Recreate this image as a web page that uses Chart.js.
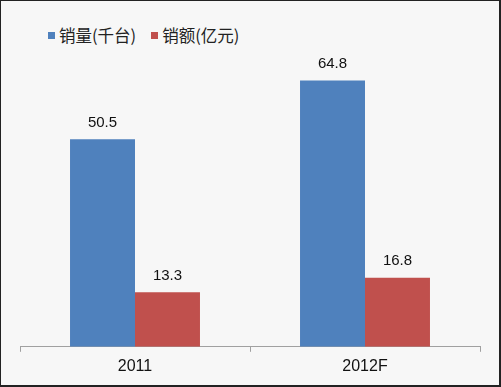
<!DOCTYPE html>
<html>
<head>
<meta charset="utf-8">
<script src="https://cdn.jsdelivr.net/npm/chart.js@4/dist/chart.umd.min.js"></script>
<style>
  html, body { margin: 0; padding: 0; background: #fff; }
  #box {
    position: relative; width: 501px; height: 387px; box-sizing: border-box;
    border-top: 1px solid #222; border-left: 1px solid #222;
    border-right: 2px solid #222; border-bottom: 2px solid #222;
    background: #f7f7f7;
  }
  #legend {
    position: absolute; left: 47px; top: 22px;
    font: 16.5px "Noto Sans CJK SC", sans-serif; color: #222; white-space: nowrap;
  }
  #legend span.item { margin-right: 15px; }
  #legend i { display: inline-block; width: 7px; height: 7px; margin-right: 4px; vertical-align: 3px; }
  canvas { position: absolute; left: 0; top: 0; }
</style>
</head>
<body>
<div id="box">
  <div id="legend"></div>
  <canvas id="myChart" width="498" height="384"></canvas>
</div>
<script>
const categories = ['2011', '2012F'];
const seriesNames = ['销量(千台)', '销额(亿元)'];
const salesVolume = [50.5, 64.8];
const salesValue = [13.3, 16.8];
const seriesColors = ['#4f81bd', '#c0504d'];

// simple legend above the plot
const legend = document.getElementById('legend');
seriesNames.forEach((name, i) => {
  const s = document.createElement('span');
  s.className = 'item';
  s.innerHTML = '<i style="background:' + seriesColors[i] + '"></i>' + name;
  legend.appendChild(s);
});

// value labels over each bar
const valueLabels = {
  id: 'valueLabels',
  afterDatasetsDraw(chart) {
    const ctx = chart.ctx;
    ctx.save();
    ctx.font = '15px "Liberation Sans", Arial, sans-serif';
    ctx.fillStyle = '#111';
    ctx.textAlign = 'center';
    ctx.textBaseline = 'bottom';
    chart.data.datasets.forEach((ds, i) => {
      chart.getDatasetMeta(i).data.forEach((bar, j) => {
        ctx.fillText(ds.data[j].toFixed(1), bar.x, bar.y - 9);
      });
    });
    ctx.restore();
  }
};

new Chart(document.getElementById('myChart'), {
  type: 'bar',
  data: {
    labels: categories,
    datasets: [
      { label: seriesNames[0], data: salesVolume, backgroundColor: seriesColors[0] },
      { label: seriesNames[1], data: salesValue, backgroundColor: seriesColors[1] }
    ]
  },
  options: {
    responsive: false,
    animation: false,
    categoryPercentage: 0.565,
    barPercentage: 1,
    layout: { padding: { left: 19, right: 19, top: 17, bottom: 4 } },
    plugins: { legend: { display: false }, tooltip: { enabled: false } },
    scales: {
      x: {
        grid: { drawOnChartArea: false, tickLength: 5, color: '#a0a0a0' },
        border: { color: '#a0a0a0' },
        ticks: { color: '#111', padding: 5, font: { size: 16, family: '"Liberation Sans", Arial, sans-serif' } }
      },
      y: { display: false, min: 0, max: 80 }
    }
  },
  plugins: [valueLabels]
});
</script>
</body>
</html>
